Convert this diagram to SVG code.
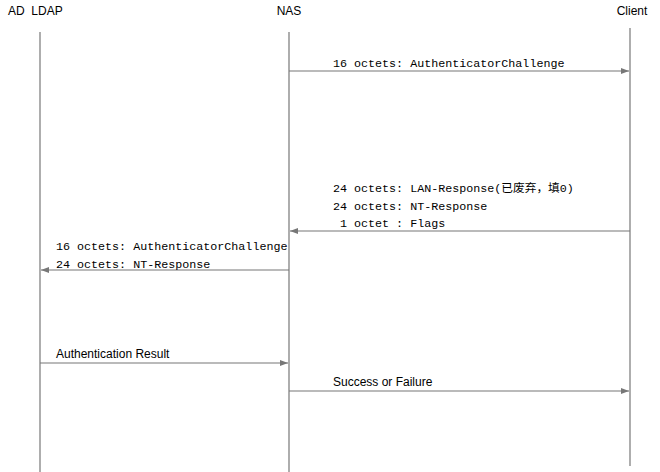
<svg xmlns="http://www.w3.org/2000/svg" width="660" height="472" viewBox="0 0 660 472">
<style>
.life{stroke:#777;stroke-width:1.2;fill:none}
.msg{stroke:#777;stroke-width:1.2;fill:none;marker-end:url(#ah)}
.hdr{font-family:"Liberation Sans",Arial,sans-serif;font-size:12px;fill:#000;white-space:pre}
.mono{font-family:"Liberation Mono","Noto Sans CJK SC",monospace;font-size:11.7px;fill:#000;white-space:pre}
.sans{font-family:"Liberation Sans",Arial,sans-serif;font-size:12px;fill:#000}
</style>
<defs>
<marker id="ah" markerWidth="8" markerHeight="6" refX="8" refY="3" orient="auto" markerUnits="userSpaceOnUse">
<path d="M0,0 L8,3 L0,6 Z" fill="#777"/>
</marker>
</defs>
<rect width="660" height="472" fill="#fff"/>
<g id="ad">
<text class="hdr" x="8" y="15">AD  LDAP</text>
<line class="life" x1="40" y1="32" x2="40" y2="472"/>
</g>
<g id="nas">
<text class="hdr" x="289" y="15" text-anchor="middle">NAS</text>
<line class="life" x1="289" y1="32" x2="289" y2="472"/>
</g>
<g id="client">
<text class="hdr" x="632" y="15" text-anchor="middle">Client</text>
<line class="life" x1="630" y1="28" x2="630" y2="466"/>
</g>
<g id="connectors">
<line class="msg" x1="289" y1="71" x2="629" y2="71"/>
<text class="mono" x="333" y="67">16 octets: AuthenticatorChallenge</text>
<line class="msg" x1="630" y1="231" x2="290" y2="231"/>
<text class="mono" x="333" y="192">24 octets: LAN-Response(已废弃，填0)</text>
<text class="mono" x="333" y="210">24 octets: NT-Response</text>
<text class="mono" x="333" y="227"> 1 octet : Flags</text>
<line class="msg" x1="289" y1="270" x2="41" y2="270"/>
<text class="mono" x="56" y="250">16 octets: AuthenticatorChallenge</text>
<text class="mono" x="56" y="268">24 octets: NT-Response</text>
<line class="msg" x1="40" y1="363" x2="288" y2="363"/>
<text class="sans" x="56" y="358">Authentication Result</text>
<line class="msg" x1="289" y1="391" x2="629" y2="391"/>
<text class="sans" x="333" y="386">Success or Failure</text>
</g>
</svg>
